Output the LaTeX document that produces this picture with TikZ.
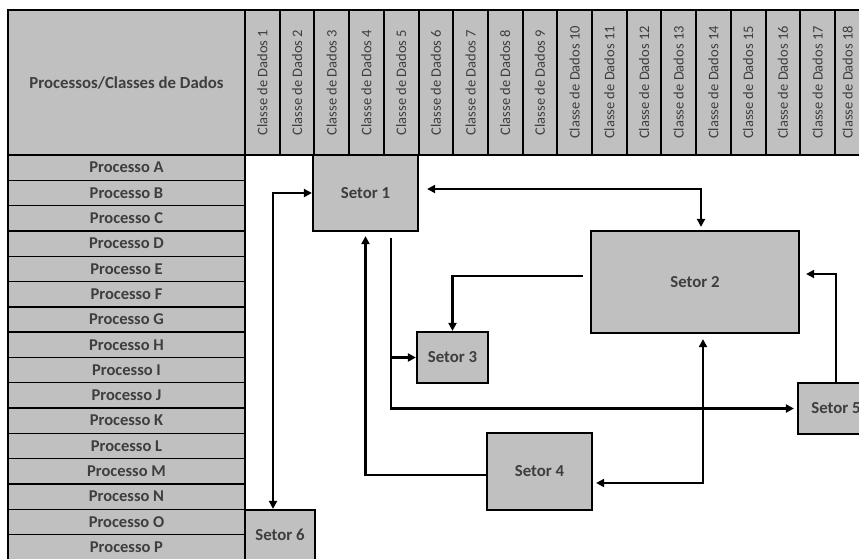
\documentclass[tikz,border=0pt]{standalone}
\usepackage{fontspec}
\setmainfont{Carlito}
\usetikzlibrary{arrows.meta}
\definecolor{cellgray}{RGB}{192,192,192}
\definecolor{textgray}{RGB}{62,62,62}

\begin{document}
\begin{tikzpicture}[x=1pt, y=-1pt, >={Triangle[length=8pt,width=8pt]},
  every node/.style={draw, fill=cellgray, text=textgray, inner sep=0pt, line width=1.6pt},
  corner/.style={minimum width=237pt, minimum height=145pt, line width=2pt, font=\fontsize{16.8}{18}\bfseries},
  classcol/.style={minimum width=34.7pt, minimum height=145pt, line width=2pt, font=\fontsize{14.5}{16}\selectfont},
  procrow/.style={minimum width=237pt, minimum height=25.3pt, line width=1.4pt, font=\fontsize{16.5}{18}\bfseries},
  setor/.style={line width=2.2pt, font=\fontsize{16.8}{18}\bfseries},
  link/.style={line width=2.4pt, ->}]
  \useasboundingbox (0,0) rectangle (859,558);

  % tabela processos x classes
  \node[corner] (proc) at (126.5,82.5) {Processos/Classes de Dados};
  \foreach \i in {1,...,18}
    \node[classcol] (c\i) at (245+\i*34.7-17.35,82.5) {\ifnum\i=18 \kern-9pt\fi\rotatebox{90}{Classe de Dados \i}};
  \foreach \p [count=\k from 0] in {A,B,C,D,E,F,G,H,I,J,K,L,M,N,O,P}
    \node[procrow] (p\p) at (126.5,167.65+\k*25.3) {Processo \p};

  % setores
  \node[setor, minimum width=105pt, minimum height=76pt] (s1) at (365.5,193) {Setor 1};
  \node[setor, minimum width=208pt, minimum height=102pt] (s2) at (695,282) {Setor 2};
  \node[setor, minimum width=71pt, minimum height=51pt] (s3) at (452.5,357.5) {Setor 3};
  \node[setor, minimum width=105pt, minimum height=77pt] (s4) at (539.5,471.5) {Setor 4};
  \node[setor, minimum width=76pt, minimum height=51pt] (s5) at (836,408.5) {Setor 5};
  \node[setor, minimum width=70pt, minimum height=50pt] (s6) at (280,535) {Setor 6};

  % fluxos
  \draw[link, <->] ([xshift=-7pt]s6.north) |- (s1.west);
  \draw[link, <->, shorten <=8pt, shorten >=3pt] ([yshift=4pt]s1.east) -| ([xshift=6pt]s2.north);
  \draw[link, shorten <=7pt] ([yshift=6pt]s2.west) -| (s3.north);
  \draw[link, shorten <=6pt] ([xshift=25.5pt]s1.south) |- (s3.west);
  \draw[link, shorten <=6pt, shorten >=3pt] ([xshift=25.5pt]s1.south) |- (s5.west);
  \draw[link, shorten >=4pt] ([yshift=-3.5pt]s4.west) -| (s1.south);
  \draw[link, <->, shorten <=3pt, shorten >=5pt] ([yshift=-11.5pt]s4.east) -| ([xshift=8pt]s2.south);
  \draw[link, shorten >=6pt] (s5.north) |- ([yshift=8pt]s2.east);
\end{tikzpicture}
\end{document}
